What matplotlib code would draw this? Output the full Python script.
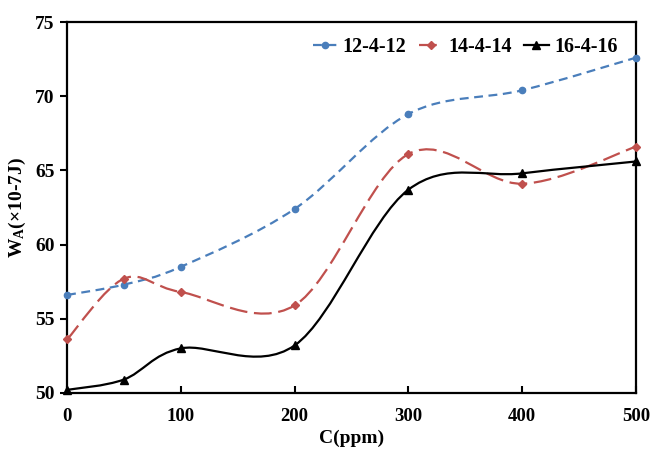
"""Adsorption work W_A versus concentration for three gemini surfactants."""

import matplotlib

matplotlib.use("Agg")
import numpy as np  # noqa: E402
from matplotlib import pyplot as plt  # noqa: E402
from matplotlib.lines import Line2D  # noqa: E402
from matplotlib.patches import PathPatch  # noqa: E402
from matplotlib.path import Path  # noqa: E402

plt.rcParams["font.family"] = ["Liberation Serif", "DejaVu Serif"]
plt.rcParams["font.weight"] = "bold"
plt.rcParams["mathtext.fontset"] = "custom"
plt.rcParams["mathtext.rm"] = "Liberation Serif:bold"
plt.rcParams["mathtext.it"] = "Liberation Serif:bold"
plt.rcParams["mathtext.bf"] = "Liberation Serif:bold"

concentration = [0, 50, 100, 200, 300, 400, 500]
wa_12 = [56.6, 57.3, 58.5, 62.4, 68.8, 70.4, 72.6]
wa_14 = [53.6, 57.7, 56.8, 55.9, 66.1, 64.1, 66.6]
wa_16 = [50.2, 50.9, 53.0, 53.2, 63.7, 64.8, 65.6]
series_labels = ["12-4-12", "14-4-14", "16-4-16"]
x_ticks = [0, 100, 200, 300, 400, 500]
y_ticks = [50, 55, 60, 65, 70, 75]

XLIM = (0, 500)
YLIM = (50, 75)
# pixel size of the plot box, so the smoothing behaves like it does on screen
BOX_W, BOX_H = 569.0, 371.0


def smooth_path(x, y):
    """Cardinal-spline bezier through the points, like a spreadsheet's smoothed line."""
    sx = BOX_W / (XLIM[1] - XLIM[0])
    sy = BOX_H / (YLIM[1] - YLIM[0])
    pts = np.column_stack([np.asarray(x, float) * sx, np.asarray(y, float) * sy])
    padded = np.vstack([pts[0], pts, pts[-1]])
    verts = [pts[0]]
    codes = [Path.MOVETO]
    for i in range(len(pts) - 1):
        p0, p1, p2, p3 = padded[i], padded[i + 1], padded[i + 2], padded[i + 3]
        verts += [p1 + (p2 - p0) / 6.0, p2 - (p3 - p1) / 6.0, p2]
        codes += [Path.CURVE4] * 3
    verts = np.array(verts) / [sx, sy]
    return Path(verts, codes)


styles = [
    dict(color="#4A7EBB", dashes=(4.0, 2.5), marker="o", ms=4.5),
    dict(color="#C0504D", dashes=(8.0, 3.0), marker="D", ms=4.0),
    dict(color="black", dashes=None, marker="^", ms=6.0),
]

fig = plt.figure(figsize=(6.51, 4.5), dpi=100)
ax = fig.add_axes([0.103, 0.127, 0.874, 0.824])

handles = []
for values, label, st in zip([wa_12, wa_14, wa_16], series_labels, styles):
    ls = (0, st["dashes"]) if st["dashes"] else "-"
    patch = PathPatch(
        smooth_path(concentration, values),
        fill=False,
        edgecolor=st["color"],
        linewidth=1.6,
        linestyle=ls,
        zorder=2,
    )
    ax.add_patch(patch)
    ax.plot(
        concentration,
        values,
        linestyle="none",
        marker=st["marker"],
        markersize=st["ms"],
        color=st["color"],
        clip_on=False,
        zorder=3,
    )
    handles.append(
        Line2D(
            [], [], color=st["color"], linestyle=ls, linewidth=1.6,
            marker=st["marker"], markersize=st["ms"], label=label,
        )
    )

ax.set_xlim(*XLIM)
ax.set_ylim(*YLIM)
ax.set_xticks(x_ticks)
ax.set_yticks(y_ticks)
ax.tick_params(axis="x", direction="in", length=5, width=1.5, labelsize=13.5, pad=11)
ax.tick_params(axis="y", direction="out", length=5, width=1.5, labelsize=14, pad=4)
for spine in ax.spines.values():
    spine.set_linewidth(1.6)

ax.set_xlabel("C(ppm)", fontsize=14, fontweight="bold", labelpad=3)
ax.set_ylabel(r"W$_{\mathregular{A}}$(×10-7J)", fontsize=14, fontweight="bold", labelpad=5)

ax.legend(
    handles=handles,
    loc="upper right",
    bbox_to_anchor=(0.995, 1.0),
    ncol=3,
    frameon=False,
    fontsize=14.5,
    handlelength=1.2,
    handletextpad=0.3,
    columnspacing=0.6,
    borderaxespad=0.35,
)

fig.savefig("out.png", dpi=100)
